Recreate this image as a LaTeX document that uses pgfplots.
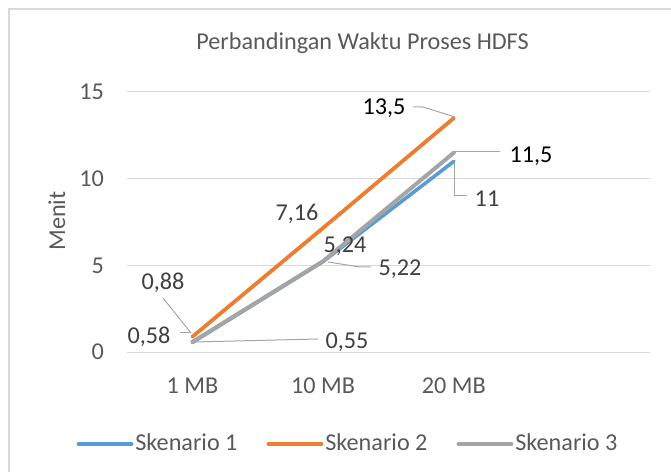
\documentclass[border=0pt]{standalone}
\usepackage{pgfplots}
\pgfplotsset{compat=1.18}
\usepackage{fontspec}
\setmainfont{Carlito}
\definecolor{sblue}{HTML}{5B9BD5}
\definecolor{sorange}{HTML}{ED7D31}
\definecolor{sgray}{HTML}{A5A5A5}
\definecolor{gridc}{HTML}{D9D9D9}
\definecolor{txt}{HTML}{595959}
\definecolor{lbl}{HTML}{404040}
\definecolor{lead}{HTML}{A6A6A6}
\newcommand\fs{\fontsize{24.2}{29}\selectfont}
\begin{document}
\fs
\begin{tikzpicture}[font=\fs]
\useasboundingbox (0,0) rectangle (671pt,471pt);
\begin{axis}[at={(127pt,119pt)}, anchor=south west, scale only axis,
  width=523pt, height=260pt, xmin=-0.5, xmax=3.5, ymin=0, ymax=15,
  xtick={0,1,2}, xticklabels={1 MB,10 MB,20 MB}, ytick={0,5,10,15},
  ymajorgrids, grid style={gridc, line width=1pt},
  axis line style={draw=none}, major tick length=0pt,
  tick label style={txt, font=\fs},
  /pgf/number format/assume math mode=true,
  yticklabel style={anchor=east, inner sep=0pt, xshift=-23pt},
  xticklabel style={anchor=base, inner sep=0pt, yshift=-41.5pt},
  clip=false,
  legend columns=3,
  legend style={at={(0.4226,-0.3538)}, anchor=center, draw=none, fill=none,
    font=\fs, text=txt,
    nodes={inner sep=2pt},
    /tikz/every even column/.append style={column sep=27pt}},
  legend image code/.code={\draw[#1, line width=3.8pt, line cap=round] (0pt,0pt) -- (53pt,0pt);},
]
\addplot[sblue, line width=3.6pt, line cap=round, line join=round] coordinates {(0,0.55) (1,5.22) (2,11)};
\addplot[sorange, line width=3.8pt, line cap=round, line join=round] coordinates {(0,0.88) (1,7.16) (2,13.5)};
\addplot[sgray, line width=4pt, line cap=round, line join=round] coordinates {(0,0.58) (1,5.24) (2,11.5)};
\legend{Skenario 1, Skenario 2, Skenario 3}
\end{axis}
\begin{scope}[x=1pt,y=-1pt,shift={(0pt,471pt)}]
\draw[gridc, line width=1.5pt] (9,490) -- (9,9) -- (690,9);
\node[txt, anchor=base] at (362.5,50) {Perbandingan Waktu Proses HDFS};
\node[txt, rotate=90] at (57,221) {Menit};
\begin{scope}[lead, line width=1pt]
\draw (413,107) -- (423,107) -- (455,117);
\draw (455,152) -- (500,152);
\draw (454,162) -- (454,196) -- (467,196);
\draw (328,262) -- (360,267) -- (371,267);
\draw (163,298) -- (191,333);
\draw (180,333) -- (191,333);
\draw (193,342) -- (318,339);
\end{scope}
\node[black] at (384,108) {13,5};
\node[black] at (531,156) {11,5};
\node[lbl] at (487,199) {11};
\node[lbl] at (297,214) {7,16};
\node[lbl] at (345,246) {5,24};
\node[lbl] at (400,269) {5,22};
\node[lbl] at (163,283) {0,88};
\node[lbl] at (149,337) {0,58};
\node[lbl] at (347,342) {0,55};
\end{scope}
\end{tikzpicture}
\end{document}
